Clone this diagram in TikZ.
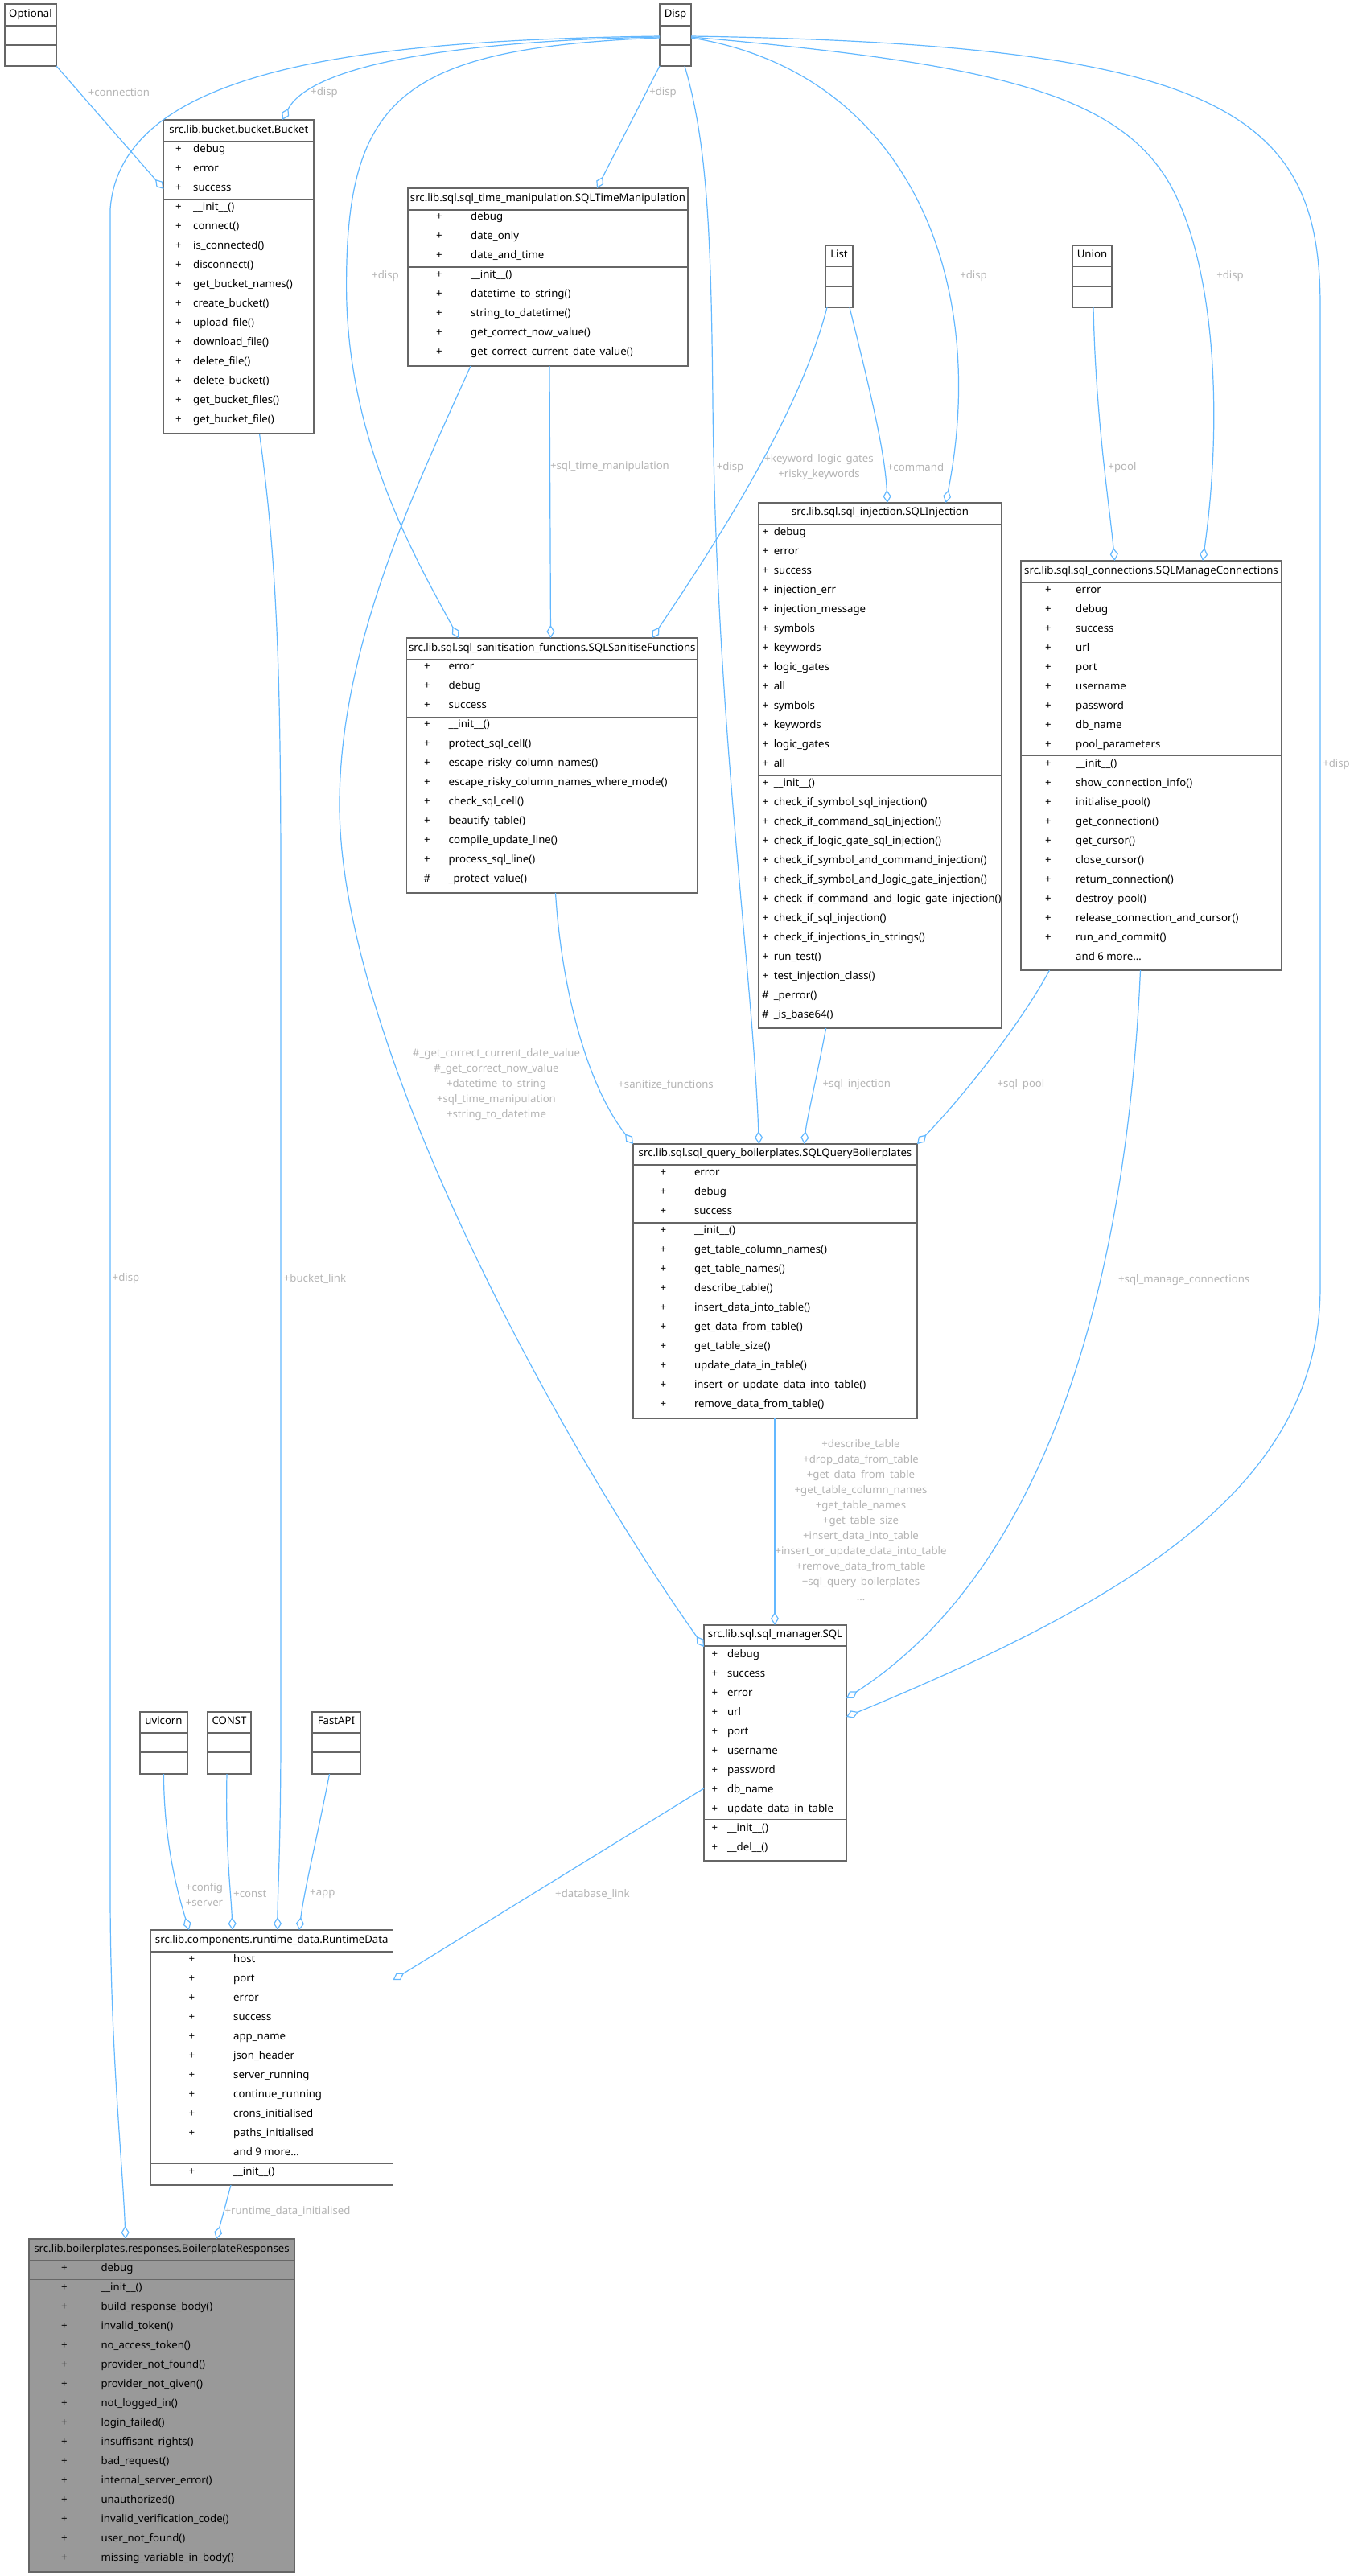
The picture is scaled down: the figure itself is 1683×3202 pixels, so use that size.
\documentclass[tikz,border=0pt]{standalone}
\usepackage{fontspec}
\setmainfont{Noto Sans}
\usetikzlibrary{arrows.meta,calc}

\definecolor{linkblue}{HTML}{63B8FF}
\definecolor{boxgray}{HTML}{666666}
\definecolor{lblgray}{HTML}{B4B4B4}
\definecolor{fillgray}{HTML}{999999}

% class box: [fill] name, x1, y1, x2, y2, title rule, attribute rule, title
\newcommand{\umlclass}[9][white]{%
  \node[classbox, fill=#1, minimum width={#5-#3}, minimum height={#6-#4}] (#2) at (#3,#4) {};
  \draw[classrule] (#3,#7) -- (#5,#7);
  \draw[classrule] (#3,#8) -- (#5,#8);
  \node[classtitle] (#2-title) at ({(#3+#5)/2},{(#4+#7)/2}) {#9};
}
% member rows: name, symbol x, text x, first y, list
\newcommand{\umlrows}[5]{%
  \foreach \vis/\member [count=\k from 0] in {#5} {
    \node[rowsym] (#1-s\k) at (#2,{#4+24*\k}) {\vis};
    \node[rowtext] (#1-m\k) at (#3,{#4+24*\k}) {\member};
  }%
}

\begin{document}
\begin{tikzpicture}[x=1pt, y=-1pt,
    every node/.style={font=\fontsize{13.2}{19}\selectfont},
    classbox/.style={draw=boxgray, line width=1.5pt, anchor=north west, inner sep=0pt, outer sep=0pt},
    classrule/.style={draw=boxgray, line width=1.5pt},
    classtitle/.style={inner sep=0pt, anchor=mid},
    rowsym/.style={inner sep=0pt, anchor=mid},
    rowtext/.style={inner sep=0pt, anchor=mid west},
    link/.style={draw=linkblue, line width=1.2pt, -{Diamond[open, length=16pt, width=10pt]}},
    lbl/.style={text=lblgray, align=center, inner sep=0pt}]
    \useasboundingbox (0,0) rectangle (1683,3202);

    % external types
    \umlclass{optional}{6}{5}{70}{82}{32}{56}{Optional}
    \umlclass{disp}{820}{5}{859}{82}{32}{56}{Disp}
    \umlclass{list}{1026}{305}{1060}{382}{331.5}{356}{List}
    \umlclass{union}{1333}{305}{1382}{382}{331.5}{356}{Union}
    \umlclass{uvicorn}{174}{2128}{233}{2205}{2154}{2178}{uvicorn}
    \umlclass{const}{258}{2128}{312}{2205}{2154}{2178}{CONST}
    \umlclass{fastapi}{388}{2128}{448}{2205}{2154}{2178}{FastAPI}

    % project classes
    \umlclass{bucket}{203.5}{149}{390}{539}{176}{248}{src.lib.bucket.bucket.Bucket}
    \umlrows{bucket}{222}{240}{187}{+/debug, +/error, +/success, +/\_\_init\_\_(), +/connect(), +/is\_connected(), +/disconnect(), +/get\_bucket\_names(), +/create\_bucket(), +/upload\_file(), +/download\_file(), +/delete\_file(), +/delete\_bucket(), +/get\_bucket\_files(), +/get\_bucket\_file()}

    \umlclass{sqltime}{507}{234}{855}{455}{261}{332}{src.lib.sql.sql\_time\_manipulation.SQLTimeManipulation}
    \umlrows{sqltime}{546}{585}{271}{+/debug, +/date\_only, +/date\_and\_time, +/\_\_init\_\_(), +/datetime\_to\_string(), +/string\_to\_datetime(), +/get\_correct\_now\_value(), +/get\_correct\_current\_date\_value()}

    \umlclass{sanit}{505.5}{793}{867}{1110}{820}{891.4}{src.lib.sql.sql\_sanitisation\_functions.SQLSanitiseFunctions}
    \umlrows{sanit}{531}{557.5}{830}{+/error, +/debug, +/success, +/\_\_init\_\_(), +/protect\_sql\_cell(), +/escape\_risky\_column\_names(), +/escape\_risky\_column\_names\_where\_mode(), +/check\_sql\_cell(), +/beautify\_table(), +/compile\_update\_line(), +/process\_sql\_line(), \#/\_protect\_value()}

    \umlclass{sqlinj}{943}{625}{1245}{1278}{651.6}{963.4}{src.lib.sql.sql\_injection.SQLInjection}
    \umlrows{sqlinj}{951.4}{961.6}{662.4}{+/debug, +/error, +/success, +/injection\_err, +/injection\_message, +/symbols, +/keywords, +/logic\_gates, +/all, +/symbols, +/keywords, +/logic\_gates, +/all, +/\_\_init\_\_(), +/check\_if\_symbol\_sql\_injection(), +/check\_if\_command\_sql\_injection(), +/check\_if\_logic\_gate\_sql\_injection(), +/check\_if\_symbol\_and\_command\_injection(), +/check\_if\_symbol\_and\_logic\_gate\_injection(), +/check\_if\_command\_and\_logic\_gate\_injection(), +/check\_if\_sql\_injection(), +/check\_if\_injections\_in\_strings(), +/run\_test(), +/test\_injection\_class(), \#/\_perror(), \#/\_is\_base64()}

    \umlclass{smc}{1269}{697}{1593}{1206}{724}{939.5}{src.lib.sql.sql\_connections.SQLManageConnections}
    \umlrows{smc}{1303}{1337}{734.4}{+/error, +/debug, +/success, +/url, +/port, +/username, +/password, +/db\_name, +/pool\_parameters, +/\_\_init\_\_(), +/show\_connection\_info(), +/initialise\_pool(), +/get\_connection(), +/get\_cursor(), +/close\_cursor(), +/return\_connection(), +/destroy\_pool(), +/release\_connection\_and\_cursor(), +/run\_and\_commit(), {}/and 6 more…}

    \umlclass{qb}{787}{1422}{1140}{1763}{1448}{1520}{src.lib.sql.sql\_query\_boilerplates.SQLQueryBoilerplates}
    \umlrows{qb}{824.5}{862.8}{1458.8}{+/error, +/debug, +/success, +/\_\_init\_\_(), +/get\_table\_column\_names(), +/get\_table\_names(), +/describe\_table(), +/insert\_data\_into\_table(), +/get\_data\_from\_table(), +/get\_table\_size(), +/update\_data\_in\_table(), +/insert\_or\_update\_data\_into\_table(), +/remove\_data\_from\_table()}

    \umlclass{sql}{875}{2020}{1052}{2313}{2046}{2261.7}{src.lib.sql.sql\_manager.SQL}
    \umlrows{sql}{888.3}{903.8}{2057.4}{+/debug, +/success, +/error, +/url, +/port, +/username, +/password, +/db\_name, +/update\_data\_in\_table, +/\_\_init\_\_(), +/\_\_del\_\_()}

    \umlclass{runtime}{187}{2399}{488.5}{2716}{2425.8}{2689.6}{src.lib.components.runtime\_data.RuntimeData}
    \umlrows{runtime}{238.3}{290}{2436.5}{+/host, +/port, +/error, +/success, +/app\_name, +/json\_header, +/server\_running, +/continue\_running, +/crons\_initialised, +/paths\_initialised, {}/and 9 more…, +/\_\_init\_\_()}

    \umlclass[fillgray]{boiler}{36}{2783}{366}{3197}{2810}{2833.7}{src.lib.boilerplates.responses.BoilerplateResponses}
    \umlrows{boiler}{80}{125.3}{2820.7}{+/debug, +/\_\_init\_\_(), +/build\_response\_body(), +/invalid\_token(), +/no\_access\_token(), +/provider\_not\_found(), +/provider\_not\_given(), +/not\_logged\_in(), +/login\_failed(), +/insuffisant\_rights(), +/bad\_request(), +/internal\_server\_error(), +/unauthorized(), +/invalid\_verification\_code(), +/user\_not\_found(), +/missing\_variable\_in\_body()}

    % aggregations
    \draw[link] (optional.south east) -- ($(bucket.north west)+(0,86)$);
    \draw[link] ($(disp.north west)+(0,41)$) .. controls (600,50) and (390,75) .. ($(bucket.north west)+(147.5,0)$);
    \draw[link] ($(disp.north west)+(0,40)$) .. controls (450,50) and (150,85) .. (137,260) -- (137,2350) .. controls (137,2550) and (152,2680) .. ($(boiler.north west)+(120,0)$);
    \draw[link] ($(disp.north west)+(0,42)$) .. controls (500,60) and (430,120) .. (430.6,357) .. controls (431,550) and (520,700) .. ($(sanit.north west)+(64.5,0)$);
    \draw[link] (disp.south west) -- ($(sqltime.north west)+(235,0)$);
    \draw[link] ($(disp.north east)+(0,42)$) .. controls (1130,90) and (1230,350) .. ($(sqlinj.north west)+(232.6,0)$);
    \draw[link] ($(disp.north east)+(0,41)$) .. controls (1250,80) and (1400,120) .. (1460,240) .. controls (1510,340) and (1520,520) .. ($(smc.north west)+(226,0)$);
    \draw[link] ($(disp.north east)+(0,40)$) .. controls (1520,55) and (1641,140) .. (1641,380) -- (1641,1600) .. controls (1641,1850) and (1400,1990) .. ($(sql.north east)+(0,114)$);
    \draw[link] ($(disp.south west)+(31,0)$) .. controls (880,180) and (884,300) .. (886,500) .. controls (890,900) and (935,1200) .. ($(qb.north west)+(156.4,0)$);

    \draw[link] ($(sqltime.south west)+(176,0)$) -- ($(sanit.north west)+(179,0)$);
    \draw[link] ($(sqltime.south west)+(78,0)$) .. controls (520,600) and (422,800) .. (422,1000) .. controls (422,1300) and (700,1800) .. ($(sql.north west)+(0,27)$);
    \draw[link] ($(list.south west)+(2,0)$) .. controls (995,510) and (900,660) .. ($(sanit.north west)+(305,0)$);
    \draw[link] ($(list.south west)+(30,0)$) .. controls (1080,480) and (1100,560) .. ($(sqlinj.north west)+(160,0)$);
    \draw[link] ($(union.south west)+(26,0)$) .. controls (1362,520) and (1378,620) .. ($(smc.north west)+(116.6,0)$);
    \draw[link] ($(bucket.south west)+(119,0)$) .. controls (345,700) and (349,850) .. (349,1100) -- (349,2150) .. controls (349,2300) and (345,2350) .. ($(runtime.north west)+(158,0)$);

    \draw[link] ($(sanit.south west)+(185,0)$) .. controls (698,1230) and (730,1350) .. (qb.north west);
    \draw[link] ($(sqlinj.south west)+(83.7,0)$) .. controls (1015,1340) and (1003,1390) .. ($(qb.north west)+(212.5,0)$);
    \draw[link] ($(smc.south west)+(35.5,0)$) .. controls (1270,1270) and (1200,1360) .. (qb.north east);
    \draw[link] ($(smc.south west)+(148.5,0)$) .. controls (1400,1600) and (1300,1950) .. ($(sql.north east)+(0,91)$);
    \draw[link] ($(qb.south west)+(176,0)$) -- ($(sql.north west)+(88,0)$);

    \draw[link] ($(uvicorn.south west)+(29.4,0)$) .. controls (204,2290) and (220,2350) .. ($(runtime.north west)+(48,0)$);
    \draw[link] ($(const.south west)+(24,0)$) .. controls (280,2300) and (287,2350) .. ($(runtime.north west)+(102,0)$);
    \draw[link] ($(fastapi.south west)+(21.5,0)$) .. controls (395,2280) and (378,2350) .. ($(runtime.north west)+(185,0)$);
    \draw[link] ($(sql.north west)+(0,203)$) -- ($(runtime.north east)+(0,62)$);
    \draw[link] ($(runtime.south west)+(100,0)$) -- ($(boiler.north west)+(233,0)$);

    % edge labels
    \begin{scope}[every node/.append style={lbl}]
        \node (l-conn) at (148,115) {+connection};
        \node (l-disp1) at (403,115) {+disp};
        \node (l-disp2) at (824,115) {+disp};
        \node (l-disp3) at (479,343) {+disp};
        \node (l-disp4) at (1210,343) {+disp};
        \node (l-disp5) at (1529,343) {+disp};
        \node (l-disp6) at (907.5,581) {+disp};
        \node (l-time) at (758,580) {+sql\_time\_manipulation};
        \node (l-kw) at (1018,580.5) {+keyword\_logic\_gates\\+risky\_keywords};
        \node (l-cmd) at (1138,581) {+command};
        \node (l-pool) at (1395,581) {+pool};
        \node (l-disp7) at (1661,950) {+disp};
        \node (l-timeattr) at (617,1348.5) {\#\_get\_correct\_current\_date\_value\\\#\_get\_correct\_now\_value\\+datetime\_to\_string\\+sql\_time\_manipulation\\+string\_to\_datetime};
        \node (l-sanit) at (827.6,1348) {+sanitize\_functions};
        \node (l-inj) at (1064.8,1348) {+sql\_injection};
        \node (l-sqlpool) at (1269,1348.4) {+sql\_pool};
        \node (l-disp8) at (156.5,1589.5) {+disp};
        \node (l-bucket) at (391.5,1589.5) {+bucket\_link};
        \node (l-smc) at (1471.7,1590.6) {+sql\_manage\_connections};
        \node (l-qb) at (1070,1889.4) {+describe\_table\\+drop\_data\_from\_table\\+get\_data\_from\_table\\+get\_table\_column\_names\\+get\_table\_names\\+get\_table\_size\\+insert\_data\_into\_table\\+insert\_or\_update\_data\_into\_table\\+remove\_data\_from\_table\\+sql\_query\_boilerplates\\…};
        \node (l-uvi) at (254,2354.5) {+config\\+server};
        \node (l-const) at (310.8,2354.6) {+const};
        \node (l-app) at (400.8,2354.6) {+app};
        \node (l-db) at (736.4,2354.3) {+database\_link};
        \node (l-rt) at (357.5,2748.3) {+runtime\_data\_initialised};
    \end{scope}
\end{tikzpicture}
\end{document}
